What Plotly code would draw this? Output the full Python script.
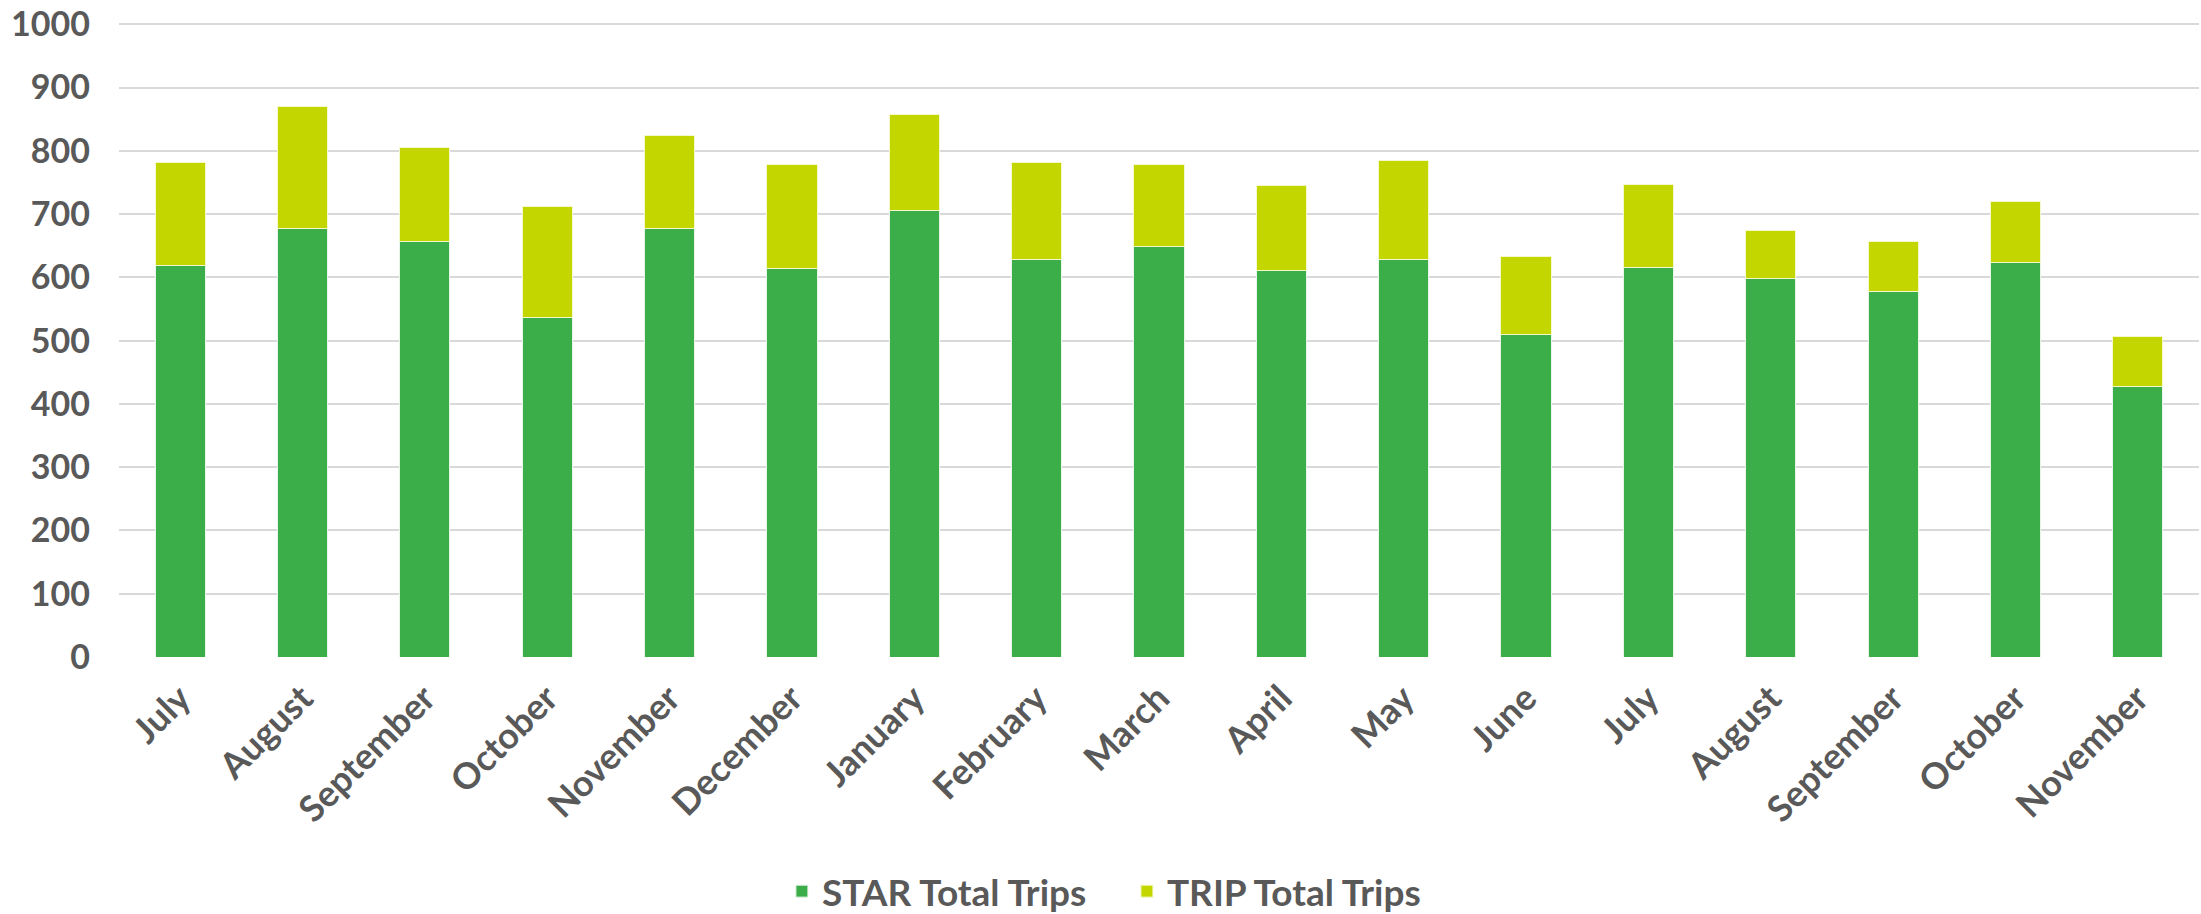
import plotly.graph_objects as go

months = ["July", "August", "September", "October", "November", "December", "January",
          "February", "March", "April", "May", "June", "July", "August", "September",
          "October", "November"]
star_trips = [619, 677, 657, 536, 677, 614, 706, 629, 649, 611, 628, 509, 615, 598, 578, 623, 428]
trip_trips = [163, 193, 149, 176, 147, 165, 151, 152, 129, 134, 156, 124, 131, 76, 78, 97, 79]
y_ticks = [0, 100, 200, 300, 400, 500, 600, 700, 800, 900, 1000]

x_idx = list(range(len(months)))
FONT = "Lato"
TXT = "#595959"

fig = go.Figure()
fig.add_trace(go.Bar(x=x_idx, y=star_trips, name="STAR Total Trips",
                     marker=dict(color="#3CAE49", line=dict(color="#E8F5E9", width=1))))
fig.add_trace(go.Bar(x=x_idx, y=trip_trips, name="TRIP Total Trips",
                     marker=dict(color="#C3D600", line=dict(color="#F4F8CC", width=1))))

fig.update_layout(
    barmode="stack",
    bargap=0.59,
    width=2201, height=914,
    margin=dict(l=119, r=2, t=23, b=257, autoexpand=False),
    paper_bgcolor="white", plot_bgcolor="white",
    font=dict(family=FONT, size=34, color=TXT),
    showlegend=True,
    legend=dict(orientation="h", xref="container", x=0.512, xanchor="center",
                y=-0.37, yanchor="middle",
                font=dict(family=FONT, size=37, color=TXT, weight="bold"),
                itemwidth=30, traceorder="normal", entrywidth=300),
)
fig.update_xaxes(
    tickmode="array", tickvals=x_idx, ticktext=months,
    tickangle=-45, range=[-0.5, len(months) - 0.5],
    tickfont=dict(family=FONT, size=36, color=TXT, weight="bold"),
    showgrid=False, zeroline=False, showline=False, ticks="",
    ticklabelstandoff=12, automargin=False,
)
fig.update_yaxes(
    range=[0, 1002], tickvals=y_ticks,
    tickfont=dict(family=FONT, size=34, color=TXT, weight="bold"),
    showgrid=True, gridcolor="#D9D9D9", gridwidth=2,
    zeroline=False, showline=False, ticks="",
    ticklabelstandoff=28, automargin=False, ticklabeloverflow="allow",
)

fig.write_html("out.html")
